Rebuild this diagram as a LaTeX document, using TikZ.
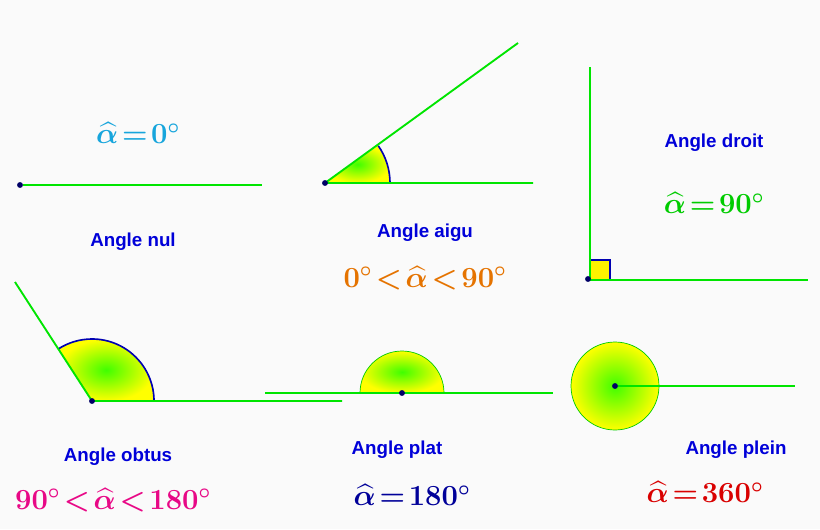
\documentclass[tikz,border=0pt]{standalone}
\usepackage{fontspec}
\setmainfont{Liberation Sans}
\usepackage{amsmath}
\begin{document}
\begin{tikzpicture}[x=0.03cm,y=-0.03cm,
  ray/.style={draw=green!90!black, line width=1.6pt},
  pt/.style={circle, fill=blue!40!black, inner sep=0pt, minimum size=5pt},
  lab/.style={font=\bfseries\fontsize{16}{18}\selectfont, text=blue!85!black},
  frm/.style={font=\fontsize{26}{28}\selectfont\boldmath, inner sep=1pt},
  fillsh/.style={inner color=green!75!yellow, outer color=yellow}]
\fill[gray!4] (0,0) rectangle (820,529);
\useasboundingbox (0,0) rectangle (820,529);
% nul
\node[pt] (a1) at (20,185) {};
\coordinate (a1e) at (262,185);
\draw[ray] (a1) -- (a1e);
\node[frm, text=cyan!80!teal] (f1) at (138,133) {$\widehat{\alpha}\!=\!0^\circ$};
\node[lab] (l1) at (133,242) {Angle nul};
% aigu
\coordinate (b0) at (325,183);
\coordinate (b1) at (533,183);
\coordinate (b2) at (518,43);
\shade[fillsh] (325,183) -- (390,183) arc[start angle=0,end angle=35,radius=65*0.03cm] -- cycle;
\draw[blue!70!black, line width=1.4pt] (390,183) arc[start angle=0,end angle=35,radius=65*0.03cm];
\draw[ray] (b1) -- (b0) -- (b2);
\node[pt] (b) at (b0) {};
\node[lab] (l2) at (425,233) {Angle aigu};
\node[frm, text=orange!90!black] (f2) at (425,278) {$0^\circ\!<\!\widehat{\alpha}\!<\!90^\circ$};
% droit
\coordinate (c0) at (590,280);
\coordinate (c1) at (808,280);
\coordinate (c2) at (590,67);
\fill[yellow] (590,280) rectangle (610,260);
\draw[blue!70!black, line width=1.4pt] (590,260) -- (610,260) -- (610,280);
\draw[ray] (c2) -- (c0) -- (c1);
\node[pt] (c) at (588,279) {};
\node[lab] (l3) at (714,143) {Angle droit};
\node[frm, text=green!80!black] (f3) at (714,203) {$\widehat{\alpha}\!=\!90^\circ$};
% obtus
\coordinate (d0) at (92,401);
\coordinate (d1) at (342,401);
\coordinate (d2) at (15,282);
\shade[fillsh] (92,401) -- (154,401) arc[start angle=0,end angle=123,radius=62*0.03cm] -- cycle;
\draw[blue!70!black, line width=1.4pt] (154,401) arc[start angle=0,end angle=123,radius=62*0.03cm];
\draw[ray] (d1) -- (d0) -- (d2);
\node[pt] (d) at (d0) {};
\node[lab] (l4) at (118,457) {Angle obtus};
\node[frm, text=magenta!90!purple] (f4) at (113,500) {$90^\circ\!<\!\widehat{\alpha}\!<\!180^\circ$};
% plat
\shade[fillsh] (444,393) arc[start angle=0,end angle=180,radius=42*0.03cm] -- cycle;
\draw[green!80!black, line width=0.6pt] (444,393) arc[start angle=0,end angle=180,radius=42*0.03cm];
\coordinate (e1) at (265,393);
\coordinate (e2) at (553,393);
\draw[ray] (e1) -- (e2);
\node[pt] (e) at (402,393) {};
\node[lab] (l5) at (397,450) {Angle plat};
\node[frm, text=blue!60!black] (f5) at (412,495) {$\widehat{\alpha}\!=\!180^\circ$};
% plein
\shade[fillsh] (615,386) circle[radius=44*0.03cm];
\draw[green!80!black, line width=0.6pt] (615,386) circle[radius=44*0.03cm];
\coordinate (g1) at (795,386);
\node[pt] (g) at (615,386) {};
\draw[ray] (g) -- (g1);
\node[lab] (l6) at (736,450) {Angle plein};
\node[frm, text=red!85!black] (f6) at (705,492) {$\widehat{\alpha}\!=\!360^\circ$};
\end{tikzpicture}
\end{document}
